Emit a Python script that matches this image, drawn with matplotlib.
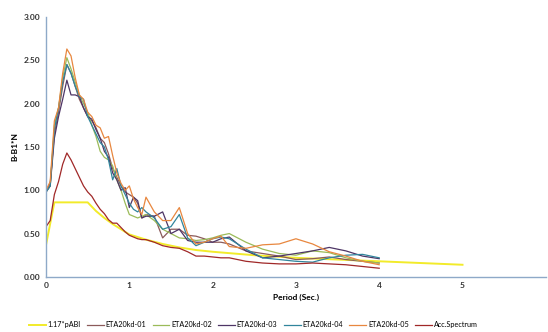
import numpy as np
import matplotlib
matplotlib.use("Agg")
import matplotlib.pyplot as plt

plt.rcParams["font.family"] = ["Lato", "DejaVu Sans"]

# spectre de calcul
t_code = [0.0, 0.1, 0.5, 0.6, 0.7, 0.8, 0.9, 1.0, 1.2, 1.4, 1.6, 1.8, 2.0, 2.5, 3.0, 3.5, 4.0, 4.5, 5.0]
v_code = [0.37, 0.86, 0.86, 0.76, 0.68, 0.61, 0.55, 0.49, 0.43, 0.38, 0.34, 0.31, 0.29, 0.25, 0.22, 0.20, 0.18, 0.16, 0.14]

# periodes des accelerogrammes
t_rec = [0.0, 0.05, 0.1, 0.15, 0.2, 0.25, 0.3, 0.35, 0.4, 0.45, 0.5, 0.55, 0.6, 0.65, 0.7, 0.75,
         0.8, 0.85, 0.9, 0.95, 1.0, 1.05, 1.1, 1.15, 1.2, 1.3, 1.4, 1.5, 1.6, 1.7, 1.8, 1.9, 2.0,
         2.1, 2.2, 2.4, 2.6, 2.8, 3.0, 3.2, 3.4, 3.6, 3.8, 4.0]

eta01 = [0.98, 1.08, 1.65, 1.9, 2.2, 2.45, 2.35, 2.2, 2.05, 1.95, 1.85, 1.8, 1.72, 1.6, 1.55, 1.42,
         1.25, 1.15, 1.05, 0.98, 0.95, 0.92, 0.85, 0.68, 0.72, 0.7, 0.45, 0.55, 0.55, 0.48, 0.47, 0.44, 0.40,
         0.40, 0.38, 0.30, 0.27, 0.24, 0.20, 0.21, 0.23, 0.20, 0.18, 0.16]
eta02 = [0.98, 1.05, 1.75, 1.95, 2.3, 2.53, 2.4, 2.25, 2.1, 2.0, 1.9, 1.75, 1.62, 1.45, 1.38, 1.35,
         1.28, 1.12, 1.0, 0.85, 0.72, 0.70, 0.68, 0.70, 0.72, 0.65, 0.55, 0.50, 0.45, 0.44, 0.42, 0.43, 0.45,
         0.48, 0.50, 0.40, 0.32, 0.27, 0.25, 0.30, 0.28, 0.22, 0.18, 0.16]
eta03 = [0.98, 1.05, 1.6, 1.85, 2.05, 2.27, 2.1, 2.1, 2.08, 1.95, 1.85, 1.82, 1.7, 1.6, 1.45, 1.38,
         1.2, 1.12, 1.0, 1.03, 0.80, 0.92, 0.88, 0.68, 0.70, 0.70, 0.75, 0.50, 0.55, 0.42, 0.40, 0.40, 0.40,
         0.44, 0.46, 0.30, 0.22, 0.24, 0.27, 0.30, 0.34, 0.30, 0.24, 0.21]
eta04 = [0.98, 1.05, 1.7, 1.95, 2.25, 2.45, 2.35, 2.2, 2.08, 2.05, 1.85, 1.75, 1.65, 1.55, 1.5, 1.35,
         1.12, 1.25, 1.05, 0.95, 0.85, 0.78, 0.75, 0.80, 0.75, 0.68, 0.55, 0.58, 0.72, 0.45, 0.36, 0.40, 0.44,
         0.46, 0.44, 0.32, 0.22, 0.20, 0.18, 0.17, 0.22, 0.25, 0.26, 0.22]
eta05 = [1.0, 1.1, 1.8, 1.95, 2.35, 2.63, 2.55, 2.3, 2.1, 2.05, 1.9, 1.85, 1.75, 1.72, 1.6, 1.62,
         1.4, 1.2, 1.08, 1.0, 1.05, 0.90, 0.80, 0.72, 0.92, 0.75, 0.65, 0.65, 0.80, 0.50, 0.38, 0.40, 0.44,
         0.47, 0.35, 0.33, 0.37, 0.38, 0.44, 0.38, 0.29, 0.24, 0.18, 0.14]
acc = [0.58, 0.65, 0.95, 1.1, 1.3, 1.43, 1.35, 1.25, 1.15, 1.05, 0.98, 0.93, 0.85, 0.78, 0.73, 0.66,
       0.62, 0.62, 0.57, 0.52, 0.48, 0.46, 0.44, 0.43, 0.43, 0.40, 0.36, 0.34, 0.33, 0.29, 0.24, 0.24, 0.23,
       0.22, 0.22, 0.18, 0.16, 0.15, 0.15, 0.16, 0.15, 0.14, 0.12, 0.10]

series = [
    ("ETA20kd-01", eta01, "#8B5A5A"),
    ("ETA20kd-02", eta02, "#9BBB59"),
    ("ETA20kd-03", eta03, "#4E3566"),
    ("ETA20kd-04", eta04, "#31859C"),
    ("ETA20kd-05", eta05, "#E8873F"),
    ("Acc.Spectrum", acc, "#A02828"),
]

fig = plt.figure(figsize=(5.48, 3.32), dpi=100)
ax = fig.add_axes([0.084, 0.166, 0.912, 0.783])

ax.plot(t_code, v_code, color="#F2EB2A", lw=1.4, label="1.17*pABI")
for nom, vals, col in series:
    ax.plot(t_rec, vals, color=col, lw=0.9, label=nom)

ax.set_xlim(0, 6)
ax.set_ylim(0, 3)
ax.set_xticks([0, 1, 2, 3, 4, 5])
ax.set_yticks(np.arange(0, 3.01, 0.5))
ax.set_yticklabels([f"{v:.2f}" for v in np.arange(0, 3.01, 0.5)])
ax.tick_params(length=0, labelsize=6, pad=4)
for lab in ax.get_xticklabels() + ax.get_yticklabels():
    lab.set_fontweight("bold")
    lab.set_color("#333333")

for s in ["top", "right"]:
    ax.spines[s].set_visible(False)
for s in ["left", "bottom"]:
    ax.spines[s].set_color("#8EA9C8")
    ax.spines[s].set_linewidth(1.0)

ax.set_xlabel("Period (Sec.)", fontsize=6, fontweight="bold", labelpad=3)
ax.set_ylabel("B-B1*N", fontsize=6, fontweight="bold", labelpad=4)

fig.legend(loc="center", bbox_to_anchor=(0.462, 0.022), ncol=7, frameon=False,
           fontsize=5.2, handlelength=2.3, columnspacing=0.9, handletextpad=0.25)

fig.savefig("out.png", dpi=100)
